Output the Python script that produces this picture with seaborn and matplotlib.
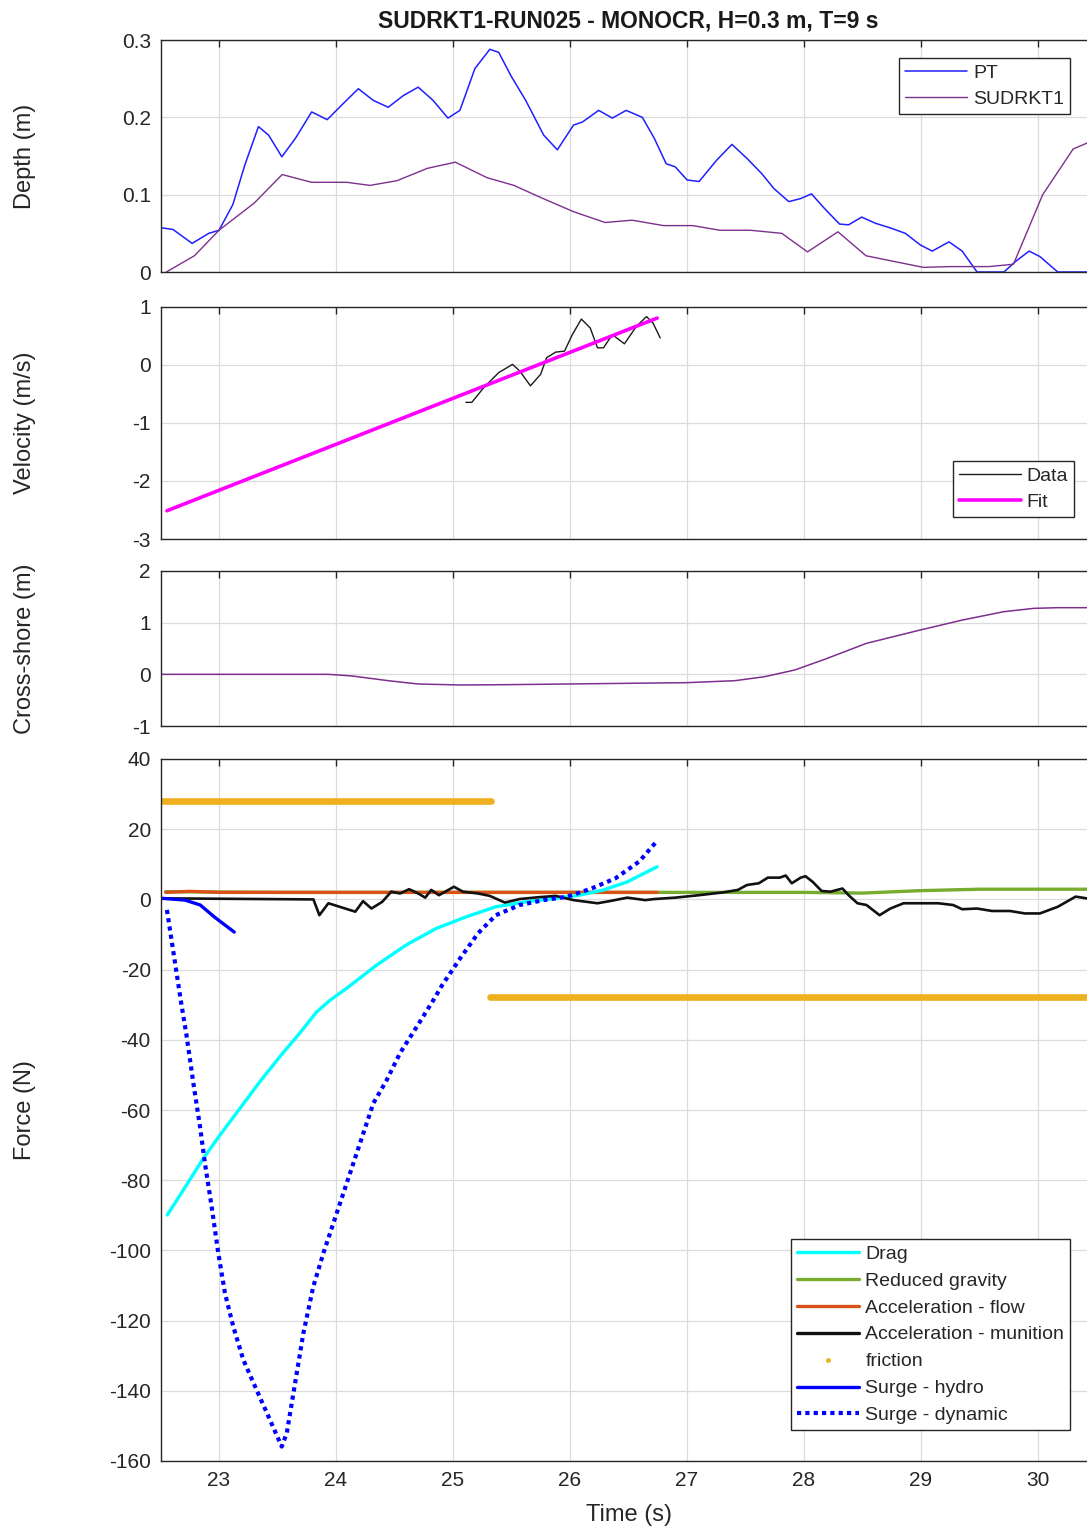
import numpy as np
import pandas as pd
import matplotlib
matplotlib.use("Agg")
import matplotlib.pyplot as plt
from matplotlib.lines import Line2D
import seaborn as sns

# ---------------- data ----------------
pt_t = [22.515, 22.607, 22.770, 22.913, 23.0, 23.118, 23.220, 23.337, 23.424, 23.537, 23.654, 23.792,
        23.925, 24.063, 24.191, 24.318, 24.446, 24.574, 24.702, 24.829, 24.957, 25.059, 25.187, 25.315,
        25.391, 25.494, 25.621, 25.775, 25.892, 26.030, 26.107, 26.245, 26.362, 26.480, 26.618, 26.720,
        26.822, 26.899, 27.001, 27.103, 27.256, 27.384, 27.512, 27.640, 27.742, 27.870, 27.972, 28.064,
        28.176, 28.304, 28.381, 28.493, 28.611, 28.738, 28.866, 28.994, 29.096, 29.239, 29.352, 29.479,
        29.709, 29.811, 29.924, 30.016, 30.169, 30.374, 30.5]
pt_d = [0.057, 0.055, 0.037, 0.050, 0.054, 0.087, 0.138, 0.188, 0.177, 0.149, 0.173, 0.207,
        0.197, 0.218, 0.237, 0.222, 0.213, 0.228, 0.239, 0.222, 0.199, 0.209, 0.263, 0.288,
        0.284, 0.254, 0.222, 0.177, 0.158, 0.190, 0.194, 0.209, 0.199, 0.209, 0.200, 0.173,
        0.140, 0.136, 0.119, 0.117, 0.145, 0.165, 0.147, 0.127, 0.108, 0.091, 0.095, 0.101,
        0.082, 0.062, 0.061, 0.071, 0.063, 0.057, 0.050, 0.035, 0.027, 0.039, 0.027, 0.0,
        0.0, 0.014, 0.027, 0.020, 0.0, 0.0, 0.0]

sud_t = [22.55, 22.79, 23.0, 23.30, 23.54, 23.79, 24.09, 24.29, 24.52, 24.78, 25.02, 25.29, 25.52,
         25.77, 26.03, 26.30, 26.53, 26.80, 27.05, 27.28, 27.54, 27.81, 28.03, 28.29, 28.53, 28.79,
         29.02, 29.25, 29.58, 29.79, 30.04, 30.30, 30.5]
sud_d = [0.0, 0.021, 0.054, 0.089, 0.126, 0.116, 0.116, 0.112, 0.118, 0.134, 0.142, 0.122, 0.112,
         0.095, 0.078, 0.064, 0.067, 0.060, 0.060, 0.054, 0.054, 0.050, 0.026, 0.052, 0.021, 0.013,
         0.006, 0.007, 0.007, 0.010, 0.100, 0.159, 0.172]

vel_t = [25.110, 25.161, 25.264, 25.391, 25.509, 25.570, 25.662, 25.749, 25.800, 25.877, 25.953,
         26.020, 26.097, 26.173, 26.235, 26.286, 26.362, 26.465, 26.567, 26.654, 26.710, 26.771]
vel_v = [-0.644, -0.644, -0.387, -0.131, 0.011, -0.103, -0.359, -0.160, 0.125, 0.222, 0.239,
         0.524, 0.792, 0.638, 0.296, 0.296, 0.524, 0.365, 0.664, 0.835, 0.721, 0.467]
fit_t = [22.555, 26.745]
fit_v = [-2.513, 0.809]

cs_t = [22.515, 23.935, 24.139, 24.446, 24.702, 25.059, 25.468, 25.979, 26.490, 27.001, 27.410,
        27.665, 27.921, 28.176, 28.534, 28.994, 29.352, 29.709, 29.965, 30.169, 30.5]
cs_x = [0.0, 0.0, -0.032, -0.123, -0.187, -0.206, -0.200, -0.187, -0.174, -0.161, -0.123,
        -0.045, 0.084, 0.290, 0.600, 0.858, 1.050, 1.213, 1.277, 1.290, 1.290]

drag_t = [22.558, 22.695, 22.866, 23.009, 23.18, 23.35, 23.52, 23.69, 23.833, 23.95, 24.088, 24.344,
          24.599, 24.855, 25.110, 25.366, 25.621, 25.877, 26.081, 26.286, 26.490, 26.745]
drag_f = [-89.9, -82.8, -73.8, -67.1, -59.5, -51.9, -44.8, -38.1, -32.1, -28.7, -25.4, -18.8,
          -13.0, -8.3, -5.0, -2.1, -0.7, 0.3, 1.2, 2.7, 5.0, 9.3]

grav_t = [22.545, 23.5, 25.0, 26.745, 27.5, 28.0, 28.5, 29.0, 29.5, 30.0, 30.5]
grav_f = [2.2, 2.0, 2.0, 2.0, 2.0, 2.0, 1.8, 2.5, 2.9, 2.9, 2.9]

accf_t = [22.545, 22.75, 23.0, 26.745]
accf_f = [2.0, 2.3, 2.0, 2.0]

accm_t = [22.515, 23.807, 23.858, 23.935, 24.165, 24.231, 24.303, 24.395, 24.472, 24.548, 24.625,
          24.702, 24.763, 24.814, 24.880, 25.008, 25.085, 25.213, 25.315, 25.443, 25.570, 25.724,
          25.877, 26.030, 26.235, 26.337, 26.490, 26.643, 26.720, 26.899, 27.103, 27.308, 27.435,
          27.512, 27.614, 27.691, 27.793, 27.844, 27.895, 27.972, 28.013, 28.074, 28.151, 28.227,
          28.329, 28.381, 28.457, 28.534, 28.646, 28.738, 28.851, 28.994, 29.147, 29.275, 29.352,
          29.479, 29.607, 29.760, 29.888, 30.016, 30.169, 30.322, 30.414, 30.5]
accm_f = [0.3, 0.0, -4.5, -1.1, -3.5, -0.5, -2.6, -0.7, 2.2, 1.7, 2.9,
          1.7, 0.5, 2.7, 1.2, 3.6, 2.2, 1.7, 1.0, -0.9, 0.1, 0.6,
          1.0, -0.2, -1.1, -0.5, 0.5, -0.2, 0.1, 0.5, 1.2, 2.0, 2.7,
          4.1, 4.6, 6.2, 6.2, 6.8, 4.6, 6.2, 6.6, 5.0, 2.4, 2.2,
          3.1, 1.2, -1.1, -1.6, -4.5, -2.6, -1.1, -1.1, -1.1, -1.6, -2.8,
          -2.6, -3.3, -3.3, -4.0, -4.0, -2.1, 0.8, 0.3, 0.3]

fric_up_t = [22.515, 25.325]
fric_up_f = [28.0, 28.0]
fric_lo_t = [25.315, 30.5]
fric_lo_f = [-27.8, -27.8]

hyd_t = [22.515, 22.71, 22.84, 22.96, 23.13]
hyd_f = [0.3, -0.2, -1.6, -5.0, -9.3]

dyn_t = [22.555, 22.673, 22.724, 22.781, 22.838, 22.880, 22.937, 22.994, 23.051, 23.122, 23.208,
         23.322, 23.436, 23.536, 23.579, 23.636, 23.721, 23.806, 23.892, 24.006, 24.120, 24.234,
         24.319, 24.433, 24.547, 24.690, 24.832, 24.906, 25.059, 25.213, 25.366, 25.570, 25.775,
         25.979, 26.184, 26.388, 26.592, 26.745]
dyn_f = [-3.0, -28.7, -39.1, -52.4, -64.8, -75.2, -87.5, -100.8, -112.2, -121.7, -131.2,
         -139.8, -148.3, -155.9, -152.1, -140.7, -123.6, -110.3, -100.8, -89.4, -78.0, -66.6,
         -58.1, -51.5, -43.8, -36.3, -28.7, -24.5, -16.9, -9.7, -4.5, -1.6, -0.2,
         0.8, 3.1, 6.0, 10.8, 16.7]

title = "SUDRKT1-RUN025 - MONOCR, H=0.3 m, T=9 s"
xticks = [23, 24, 25, 26, 27, 28, 29, 30]

# ---------------- style ----------------
sns.set_style("white")
plt.rcParams['font.family'] = ['Liberation Sans', 'DejaVu Sans']
plt.rcParams['axes.unicode_minus'] = False

C_PT = "#1f1fff"
C_SUD = "#7E2F8E"
C_MAG = "#ff00ff"
C_CYAN = "#00ffff"
C_GREEN = "#77AC30"
C_ORANGE = "#D95319"
C_FRIC = "#EDB120"
C_BLUE = "#0000ff"

TICK_FS = 15
LAB_FS = 17
LEG_FS = 14

fig = plt.figure(figsize=(10.87, 15.30), dpi=100)
L = 160.5 / 1087
W = 936 / 1087


def mk_axes(top_px, bot_px):
    return fig.add_axes([L, 1 - bot_px / 1530, W, (bot_px - top_px) / 1530])


ax1 = mk_axes(40, 272)
ax2 = mk_axes(307, 539)
ax3 = mk_axes(571, 726)
ax4 = mk_axes(759, 1461)


def style(ax, yticks, ylim, ylabel, show_x):
    ax.set_xlim(22.5, 30.5)
    ax.set_ylim(*ylim)
    ax.set_xticks(xticks)
    ax.set_yticks(yticks)
    ax.grid(True, color="#dcdcdc", linewidth=0.9)
    ax.set_axisbelow(True)
    for s in ax.spines.values():
        s.set_color("#262626")
        s.set_linewidth(1.0)
        s.set_visible(True)
    ax.tick_params(direction="in", length=5, width=1.0, colors="#262626",
                   top=True, right=True, labelsize=TICK_FS, pad=7)
    ax.tick_params(axis="x", labelbottom=show_x)
    ax.set_ylabel(ylabel, fontsize=LAB_FS, color="#262626")
    ax.yaxis.set_label_coords(-0.133, 0.5)
    ax.set_xlabel("")


def lp(ax, t, y, **kw):
    sns.lineplot(x=t, y=y, ax=ax, estimator=None, sort=False, **kw)


# Panel 1 depth
lp(ax1, pt_t, pt_d, color=C_PT, linewidth=1.1, label="PT")
lp(ax1, sud_t, sud_d, color=C_SUD, linewidth=1.0, label="SUDRKT1")
style(ax1, [0, 0.1, 0.2, 0.3], (0, 0.3), "Depth (m)", False)
ax1.set_yticklabels(["0", "0.1", "0.2", "0.3"])
ax1.set_title(title, fontsize=16.5, fontweight="bold", pad=9, color="#1a1a1a")

# Panel 2 velocity
lp(ax2, vel_t, vel_v, color="#1a1a1a", linewidth=1.0, label="Data")
lp(ax2, fit_t, fit_v, color=C_MAG, linewidth=2.6, label="Fit")
style(ax2, [-3, -2, -1, 0, 1], (-3, 1), "Velocity (m/s)", False)

# Panel 3 cross-shore
lp(ax3, cs_t, cs_x, color=C_SUD, linewidth=1.1)
style(ax3, [-1, 0, 1, 2], (-1, 2), "Cross-shore (m)", False)

# Panel 4 force
lp(ax4, fric_up_t, fric_up_f, color=C_FRIC, linewidth=4.8)
lp(ax4, fric_lo_t, fric_lo_f, color=C_FRIC, linewidth=4.8)
lp(ax4, grav_t, grav_f, color=C_GREEN, linewidth=2.4)
lp(ax4, accf_t, accf_f, color=C_ORANGE, linewidth=2.4)
lp(ax4, drag_t, drag_f, color=C_CYAN, linewidth=2.4)
lp(ax4, accm_t, accm_f, color="#111111", linewidth=1.9)
lp(ax4, hyd_t, hyd_f, color=C_BLUE, linewidth=2.4)
lp(ax4, dyn_t, dyn_f, color=C_BLUE, linewidth=3.0, linestyle=(0, (1, 1)))
style(ax4, list(range(-160, 41, 20)), (-160, 40), "Force (N)", True)
ax4.set_xlabel("Time (s)", fontsize=LAB_FS, color="#262626", labelpad=10)

for ax in (ax1, ax2, ax3, ax4):
    lg = ax.get_legend()
    if lg is not None:
        lg.remove()

leg_kw = dict(fontsize=LEG_FS, frameon=True, fancybox=False, framealpha=1,
              edgecolor="#262626", borderpad=0.3, handletextpad=0.3,
              borderaxespad=0.0, handlelength=3.2)

l1 = ax1.legend(handles=[Line2D([], [], color=C_PT, lw=1.1),
                         Line2D([], [], color=C_SUD, lw=1.0)],
                labels=["PT", "SUDRKT1"], loc="upper right",
                bbox_to_anchor=(0.9717, 0.922), labelspacing=0.45, **leg_kw)
l1.get_frame().set_linewidth(1.0)

l2 = ax2.legend(handles=[Line2D([], [], color="#1a1a1a", lw=1.0),
                         Line2D([], [], color=C_MAG, lw=2.6)],
                labels=["Data", "Fit"], loc="lower right",
                bbox_to_anchor=(0.976, 0.095), labelspacing=0.45, **leg_kw)
l2.get_frame().set_linewidth(1.0)

h4 = [Line2D([], [], color=C_CYAN, lw=2.4),
      Line2D([], [], color=C_GREEN, lw=2.4),
      Line2D([], [], color=C_ORANGE, lw=2.4),
      Line2D([], [], color="#111111", lw=2.4),
      Line2D([], [], color=C_FRIC, lw=0, marker=".", markersize=5),
      Line2D([], [], color=C_BLUE, lw=2.4),
      Line2D([], [], color=C_BLUE, lw=3.0, linestyle=(0, (1, 1)))]
lab4 = ["Drag", "Reduced gravity", "Acceleration - flow", "Acceleration - munition",
        "friction", "Surge - hydro", "Surge - dynamic"]
l4 = ax4.legend(handles=h4, labels=lab4, loc="lower right",
                bbox_to_anchor=(0.9717, 0.044), labelspacing=0.48, **leg_kw)
l4.get_frame().set_linewidth(1.0)

fig.savefig("out.png", dpi=100, facecolor="white")
